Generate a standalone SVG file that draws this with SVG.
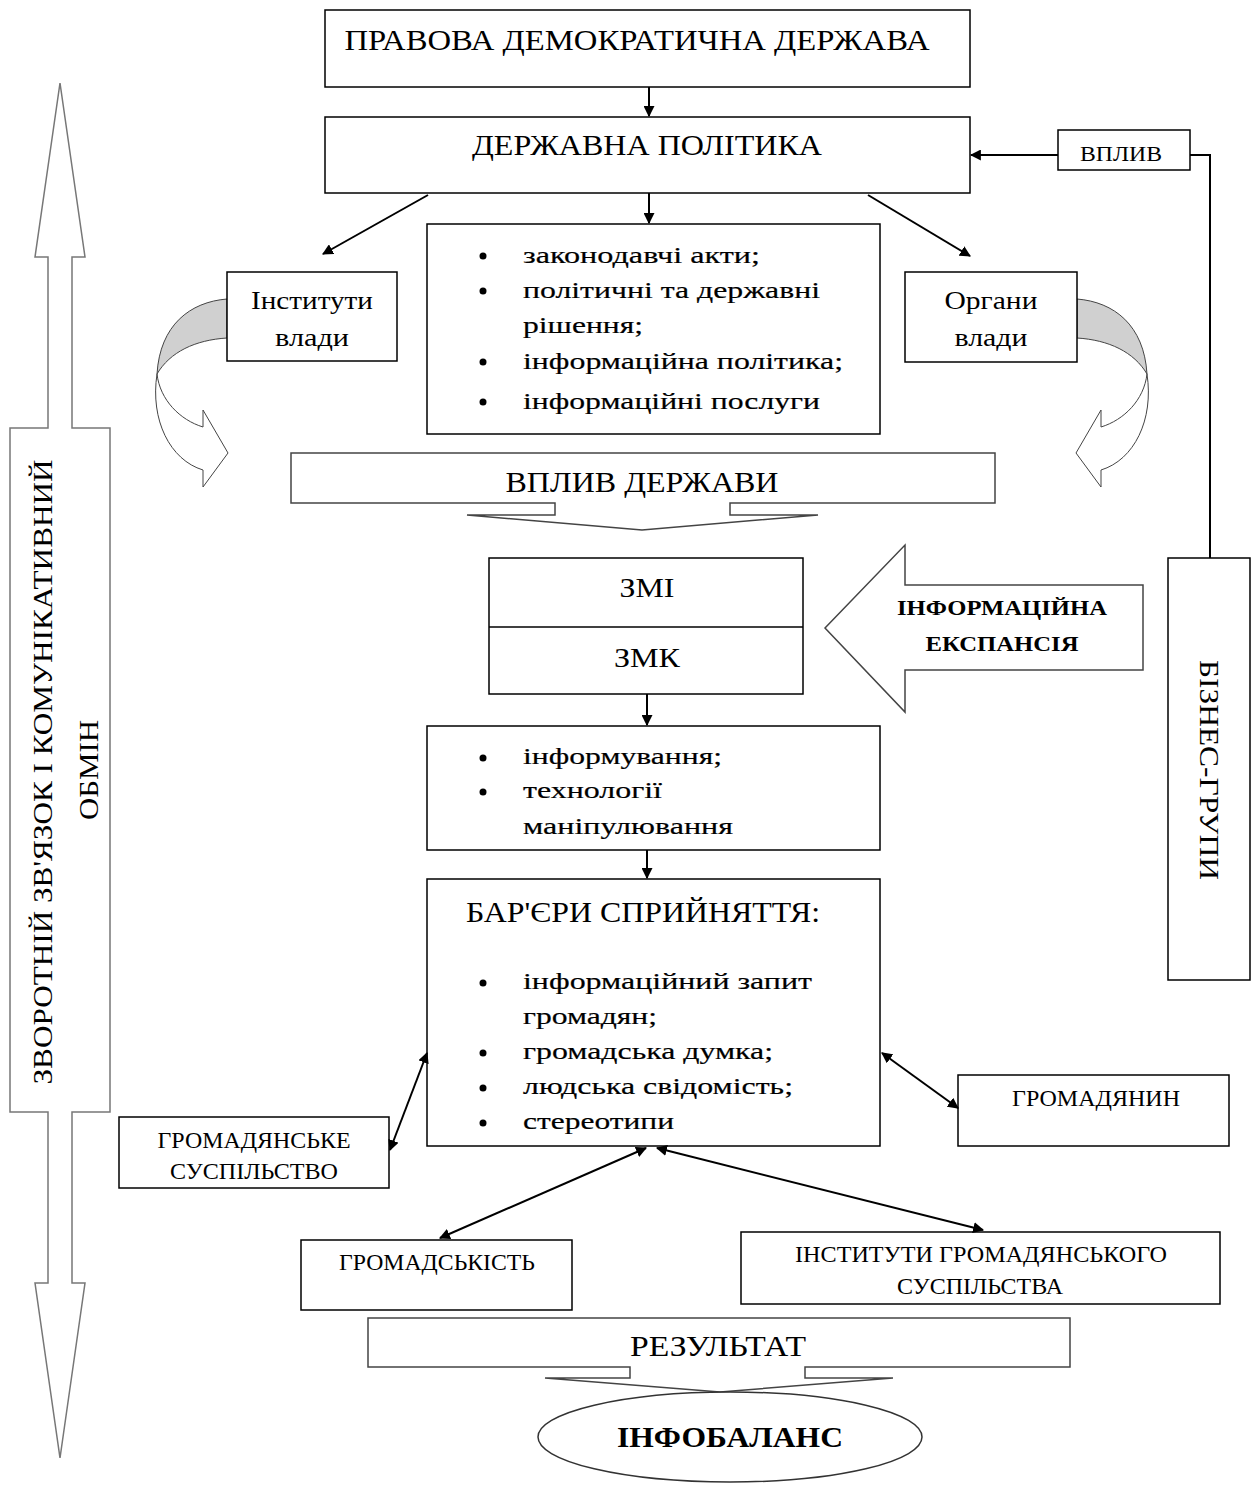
<svg xmlns="http://www.w3.org/2000/svg" width="1260" height="1487" viewBox="0 0 1260 1487">
<style>
.box{fill:#fff;stroke:#000;stroke-width:1.5}
.blk{fill:#fff;stroke:#444;stroke-width:1.5}
.ln{fill:none;stroke:#000;stroke-width:2}
.t{font-family:"Liberation Serif","Times New Roman",serif;fill:#000}
.c{text-anchor:middle}
.b{font-size:24px;stroke:#000;stroke-width:0.2}
.cap{font-size:24px}
.dot{fill:#000}
</style>
<defs>
<marker id="ah" viewBox="0 0 10 10" refX="9" refY="5" markerWidth="11" markerHeight="11" markerUnits="userSpaceOnUse" orient="auto-start-reverse">
<path d="M0,0 L10,5 L0,10 Z" fill="#000"/>
</marker>
</defs>
<rect width="1260" height="1487" fill="#fff"/>

<g id="feedback">
<path d="M60,83 L85,257 L72,257 L72,428 L110,428 L110,1112 L72,1112 L72,1283 L85,1283 L60,1458 L35,1283 L48,1283 L48,1112 L10,1112 L10,428 L48,428 L48,257 L35,257 Z" fill="#fff" stroke="#777" stroke-width="1.5"/>
<text class="t" font-size="28" transform="translate(52,772) rotate(-90)" text-anchor="middle" textLength="625" lengthAdjust="spacingAndGlyphs">ЗВОРОТНІЙ ЗВ'ЯЗОК І КОМУНІКАТИВНИЙ</text>
<text class="t" font-size="28" transform="translate(98,770) rotate(-90)" text-anchor="middle" textLength="100" lengthAdjust="spacingAndGlyphs">ОБМІН</text>
</g>

<g id="state">
<rect class="box" x="325" y="10" width="645" height="77"/>
<text class="t c" x="637" y="50" font-size="30" textLength="585" lengthAdjust="spacingAndGlyphs">ПРАВОВА ДЕМОКРАТИЧНА ДЕРЖАВА</text>
</g>

<g id="policy">
<rect class="box" x="325" y="117" width="645" height="76"/>
<text class="t c" x="647" y="155" font-size="30" textLength="350" lengthAdjust="spacingAndGlyphs">ДЕРЖАВНА ПОЛІТИКА</text>
</g>

<g id="vplyv">
<rect class="box" x="1058" y="130" width="132" height="40"/>
<text class="t c" x="1121" y="161" font-size="22" textLength="82" lengthAdjust="spacingAndGlyphs">ВПЛИВ</text>
</g>

<g id="business">
<rect class="box" x="1168" y="558" width="82" height="422"/>
<text class="t" font-size="28" transform="translate(1200,770) rotate(90)" text-anchor="middle" textLength="220" lengthAdjust="spacingAndGlyphs">БІЗНЕС-ГРУПИ</text>
</g>

<g id="institutes">
<path d="M227,299 C190,302 160,325 157,374 C170,352 195,340 227,338 Z" fill="#d0d0d0" stroke="#444" stroke-width="1"/>
<path d="M157,374 C150,420 170,460 203,470 L203,487 L228,453 L203,410 L203,427 C180,420 160,400 157,374 Z" fill="#fff" stroke="#444" stroke-width="1"/>
<rect class="box" x="227" y="272" width="170" height="89"/>
<text class="t c" x="312" y="309" font-size="25" textLength="122" lengthAdjust="spacingAndGlyphs">Інститути</text>
<text class="t c" x="312" y="346" font-size="25" textLength="74" lengthAdjust="spacingAndGlyphs">влади</text>
</g>

<g id="organs">
<g transform="translate(1304,0) scale(-1,1)">
<path d="M227,299 C190,302 160,325 157,374 C170,352 195,340 227,338 Z" fill="#d0d0d0" stroke="#444" stroke-width="1"/>
<path d="M157,374 C150,420 170,460 203,470 L203,487 L228,453 L203,410 L203,427 C180,420 160,400 157,374 Z" fill="#fff" stroke="#444" stroke-width="1"/>
</g>
<rect class="box" x="905" y="272" width="172" height="90"/>
<text class="t c" x="991" y="309" font-size="25" textLength="93" lengthAdjust="spacingAndGlyphs">Органи</text>
<text class="t c" x="991" y="346" font-size="25" textLength="73" lengthAdjust="spacingAndGlyphs">влади</text>
</g>

<g id="instruments">
<rect class="box" x="427" y="224" width="453" height="210"/>
<circle class="dot" cx="483" cy="256" r="3.5"/>
<circle class="dot" cx="483" cy="291" r="3.5"/>
<circle class="dot" cx="483" cy="362" r="3.5"/>
<circle class="dot" cx="483" cy="402" r="3.5"/>
<text class="t b" x="523" y="263" textLength="237" lengthAdjust="spacingAndGlyphs">законодавчі акти;</text>
<text class="t b" x="523" y="298" textLength="297" lengthAdjust="spacingAndGlyphs">політичні та державні</text>
<text class="t b" x="523" y="333" textLength="120" lengthAdjust="spacingAndGlyphs">рішення;</text>
<text class="t b" x="523" y="369" textLength="320" lengthAdjust="spacingAndGlyphs">інформаційна політика;</text>
<text class="t b" x="523" y="409" textLength="297" lengthAdjust="spacingAndGlyphs">інформаційні послуги</text>
</g>

<g id="state-influence">
<path class="blk" d="M291,453 L995,453 L995,503 L730,503 L730,515 L818,515 L642,530 L467,515 L555,515 L555,503 L291,503 Z"/>
<text class="t c" x="642" y="492" font-size="30" textLength="273" lengthAdjust="spacingAndGlyphs">ВПЛИВ ДЕРЖАВИ</text>
</g>

<g id="media">
<rect class="box" x="489" y="558" width="314" height="136"/>
<line x1="489" y1="627" x2="803" y2="627" stroke="#000" stroke-width="1.5"/>
<text class="t c" x="647" y="597" font-size="27" textLength="55" lengthAdjust="spacingAndGlyphs">ЗМІ</text>
<text class="t c" x="647" y="667" font-size="27" textLength="66" lengthAdjust="spacingAndGlyphs">ЗМК</text>
</g>

<g id="expansion">
<path class="blk" d="M825,628 L905,545 L905,585 L1143,585 L1143,670 L905,670 L905,712 Z"/>
<text class="t c" x="1002" y="615" font-size="22" font-weight="bold" textLength="210" lengthAdjust="spacingAndGlyphs">ІНФОРМАЦІЙНА</text>
<text class="t c" x="1002" y="651" font-size="22" font-weight="bold" textLength="153" lengthAdjust="spacingAndGlyphs">ЕКСПАНСІЯ</text>
</g>

<g id="methods">
<rect class="box" x="427" y="726" width="453" height="124"/>
<circle class="dot" cx="483" cy="758" r="3.5"/>
<circle class="dot" cx="483" cy="792" r="3.5"/>
<text class="t b" x="523" y="764" textLength="199" lengthAdjust="spacingAndGlyphs">інформування;</text>
<text class="t b" x="523" y="798" textLength="139" lengthAdjust="spacingAndGlyphs">технології</text>
<text class="t b" x="523" y="834" textLength="210" lengthAdjust="spacingAndGlyphs">маніпулювання</text>
</g>

<g id="barriers">
<rect class="box" x="427" y="879" width="453" height="267"/>
<text class="t" x="466" y="922" font-size="30" textLength="354" lengthAdjust="spacingAndGlyphs">БАР'ЄРИ СПРИЙНЯТТЯ:</text>
<circle class="dot" cx="483" cy="983" r="3.5"/>
<circle class="dot" cx="483" cy="1053" r="3.5"/>
<circle class="dot" cx="483" cy="1088" r="3.5"/>
<circle class="dot" cx="483" cy="1123" r="3.5"/>
<text class="t b" x="523" y="989" textLength="289" lengthAdjust="spacingAndGlyphs">інформаційний запит</text>
<text class="t b" x="523" y="1024" textLength="134" lengthAdjust="spacingAndGlyphs">громадян;</text>
<text class="t b" x="523" y="1059" textLength="250" lengthAdjust="spacingAndGlyphs">громадська думка;</text>
<text class="t b" x="523" y="1094" textLength="270" lengthAdjust="spacingAndGlyphs">людська свідомість;</text>
<text class="t b" x="523" y="1129" textLength="151" lengthAdjust="spacingAndGlyphs">стереотипи</text>
</g>

<g id="citizen">
<rect class="box" x="958" y="1075" width="271" height="71"/>
<text class="t c cap" x="1096" y="1106" textLength="168" lengthAdjust="spacingAndGlyphs">ГРОМАДЯНИН</text>
</g>

<g id="civil-society">
<rect class="box" x="119" y="1117" width="270" height="71"/>
<text class="t c cap" x="254" y="1148" textLength="193" lengthAdjust="spacingAndGlyphs">ГРОМАДЯНСЬКЕ</text>
<text class="t c cap" x="254" y="1179" textLength="168" lengthAdjust="spacingAndGlyphs">СУСПІЛЬСТВО</text>
</g>

<g id="public">
<rect class="box" x="301" y="1240" width="271" height="70"/>
<text class="t c cap" x="437" y="1270" textLength="196" lengthAdjust="spacingAndGlyphs">ГРОМАДСЬКІСТЬ</text>
</g>

<g id="civil-institutes">
<rect class="box" x="741" y="1232" width="479" height="72"/>
<text class="t c cap" x="981" y="1262" textLength="372" lengthAdjust="spacingAndGlyphs">ІНСТИТУТИ  ГРОМАДЯНСЬКОГО</text>
<text class="t c cap" x="980" y="1294" textLength="166" lengthAdjust="spacingAndGlyphs">СУСПІЛЬСТВА</text>
</g>

<g id="result">
<path class="blk" d="M368,1318 L1070,1318 L1070,1367 L805,1367 L805,1378 L893,1378 L720,1392 L545,1378 L630,1378 L630,1367 L368,1367 Z"/>
<text class="t c" x="718" y="1356" font-size="30" textLength="176" lengthAdjust="spacingAndGlyphs">РЕЗУЛЬТАТ</text>
</g>

<g id="infobalance">
<ellipse cx="730" cy="1437" rx="192" ry="45" fill="#fff" stroke="#333" stroke-width="1.5"/>
<text class="t c" x="730" y="1447" font-size="30" font-weight="bold" textLength="226" lengthAdjust="spacingAndGlyphs">ІНФОБАЛАНС</text>
</g>

<g id="connectors">
<line class="ln" x1="649" y1="87" x2="649" y2="116" marker-end="url(#ah)"/>
<line class="ln" x1="649" y1="193" x2="649" y2="223" marker-end="url(#ah)"/>
<line class="ln" x1="428" y1="195" x2="323" y2="254" marker-end="url(#ah)"/>
<line class="ln" x1="868" y1="195" x2="970" y2="256" marker-end="url(#ah)"/>
<line class="ln" x1="1058" y1="155" x2="971" y2="155" marker-end="url(#ah)"/>
<polyline class="ln" points="1190,155 1210,155 1210,558"/>
<line class="ln" x1="647" y1="694" x2="647" y2="725" marker-end="url(#ah)"/>
<line class="ln" x1="647" y1="850" x2="647" y2="878" marker-end="url(#ah)"/>
<line class="ln" x1="390" y1="1150" x2="427" y2="1053" marker-start="url(#ah)" marker-end="url(#ah)"/>
<line class="ln" x1="882" y1="1053" x2="958" y2="1108" marker-start="url(#ah)" marker-end="url(#ah)"/>
<line class="ln" x1="440" y1="1238" x2="646" y2="1148" marker-start="url(#ah)" marker-end="url(#ah)"/>
<line class="ln" x1="657" y1="1148" x2="983" y2="1230" marker-start="url(#ah)" marker-end="url(#ah)"/>
</g>
</svg>
